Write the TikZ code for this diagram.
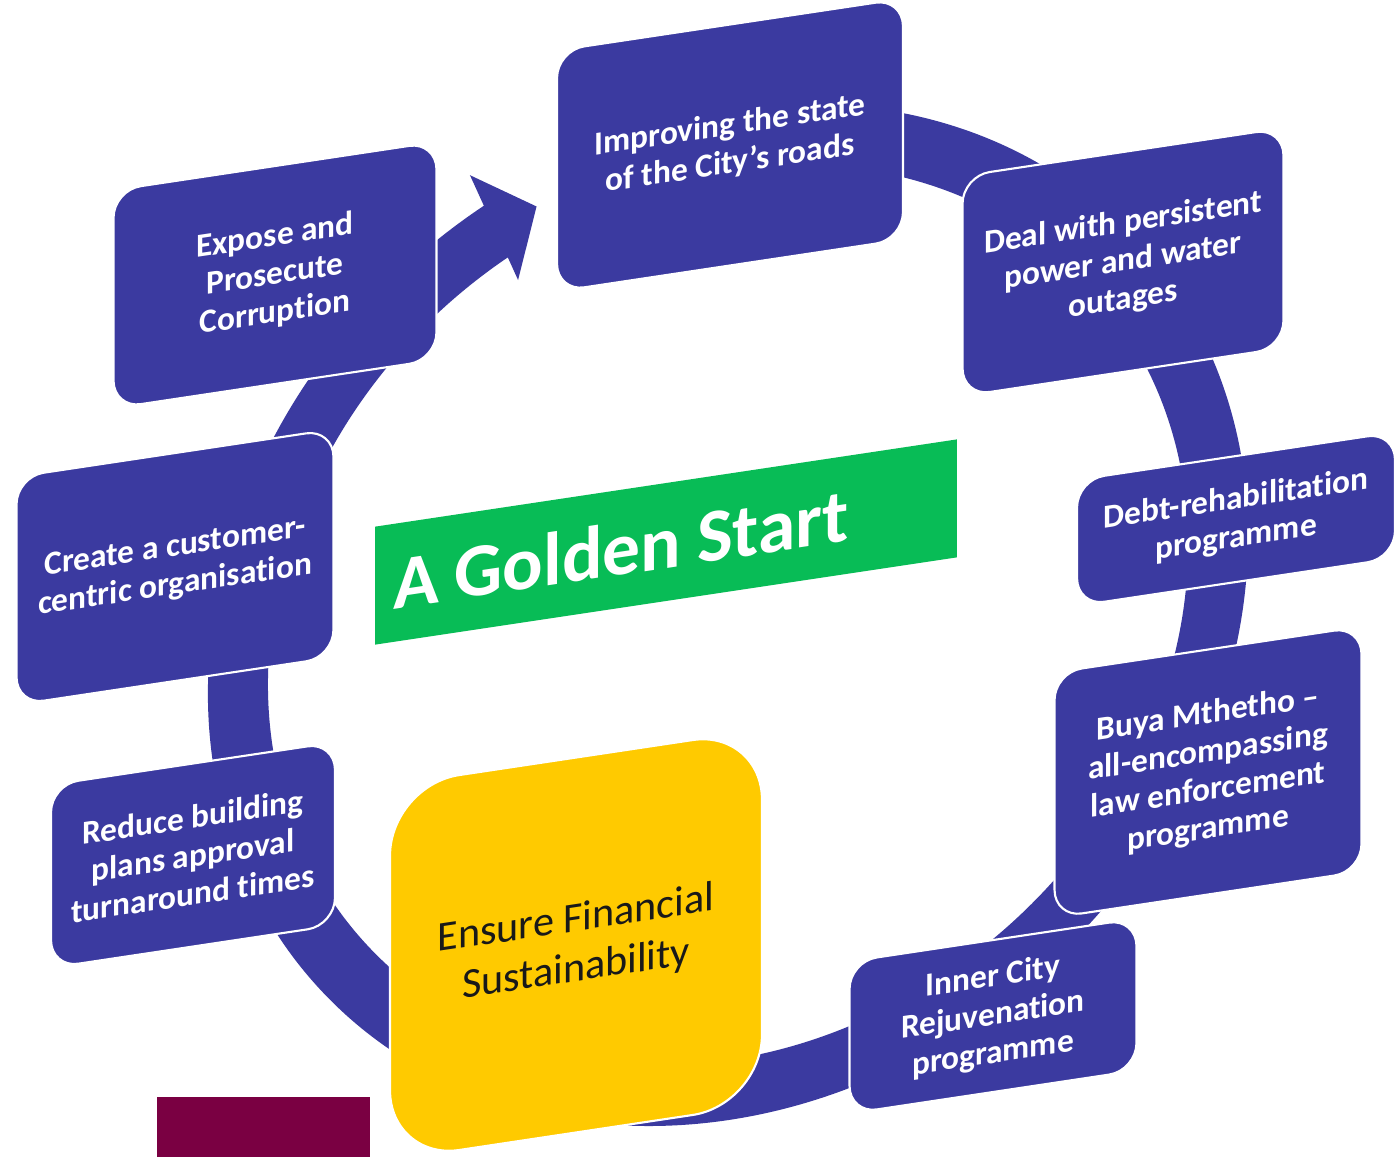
\documentclass[tikz,border=0pt]{standalone}
\usepackage{fontspec}
\setmainfont{Carlito}[Ligatures={NoCommon,NoContextual}, Contextuals=NoAlternate]
\definecolor{ringblue}{RGB}{59,58,160}
\definecolor{bannergreen}{RGB}{8,188,86}
\definecolor{goldyellow}{RGB}{255,202,0}
\definecolor{deepmaroon}{RGB}{122,0,66}
\begin{document}
\begin{tikzpicture}[x=0.02cm, y=0.02cm,
  stepbox/.style={fill=ringblue, draw=white, line width=1.2pt, rounded corners=0.55cm,
    text=white, font=\bfseries\fontsize{19}{21.8}\selectfont, align=center,
    inner sep=0pt, yslant=0.15},
  goalbox/.style={fill=goldyellow, draw=white, line width=1.2pt, rounded corners=1.4cm,
    text=black!90, font=\fontsize{24}{28.5}\selectfont, align=center,
    inner sep=0pt, yslant=0.15},
  banner/.style={fill=bannergreen, text=white, font=\bfseries\fontsize{43}{50}\selectfont,
    align=left, inner xsep=0.36cm, inner ysep=0pt, yslant=0.15}]

\useasboundingbox (0,0) rectangle (1395,-1157);
\clip (0,0) rectangle (1395,-1157);
\fill[white] (0,0) rectangle (1395,-1157);

% circular arrow running clockwise round the cycle
\begin{scope}[shift={(728,-615)}, yslant=0.15]
  \fill[ringblue]
    ({520*cos(80)},{505*sin(80)})
    arc[start angle=80, end angle=-242, x radius=520, y radius=505]
    -- ({557*cos(117.6)},{540*sin(117.6)})
    -- ({490*cos(113)},{475*sin(113)})
    -- ({433*cos(119)},{419*sin(119)})
    -- ({460*cos(118.6)},{445*sin(118.6)})
    arc[start angle=-241.4, end angle=80, x radius=460, y radius=445]
    -- cycle;
\end{scope}

% the steps of the cycle
\node[stepbox, minimum width=6.92cm, minimum height=4.82cm] (road) at (730,-145)
  {Improving the state\\of the City’s roads};
\node[stepbox, minimum width=6.42cm, minimum height=4.40cm] (outage) at (1123,-262)
  {Deal with persistent\\power and water\\outages};
\node[stepbox, minimum width=6.36cm, minimum height=2.52cm] (debt) at (1236,-519)
  {Debt-rehabilitation\\programme};
\node[stepbox, minimum width=6.14cm, minimum height=4.90cm] (buya) at (1208,-772)
  {Buya Mthetho –\\all-encompassing\\law enforcement\\programme};
\node[stepbox, minimum width=5.74cm, minimum height=3.04cm] (inner) at (993,-1016)
  {Inner City\\Rejuvenation\\programme};
\node[goalbox, minimum width=7.44cm, minimum height=7.50cm] (finance) at (576,-945)
  {Ensure Financial\\Sustainability};
\node[stepbox, minimum width=5.68cm, minimum height=3.66cm] (plans) at (193,-855)
  {Reduce building\\plans approval\\turnaround times};
\node[stepbox, minimum width=6.34cm, minimum height=4.56cm] (customer) at (175,-567)
  {Create a customer-\\centric organisation};
\node[stepbox, minimum width=6.46cm, minimum height=4.36cm] (corrupt) at (275,-275)
  {Expose and\\Prosecute\\Corruption};

% central title
\node[banner, text width=10.92cm, minimum height=2.36cm] (title) at (666,-542)
  {\spaceskip=0.93\fontdimen2\font A Golden Start};

% corner block
\fill[deepmaroon] (157,-1097) rectangle (370,-1157);
\end{tikzpicture}
\end{document}
